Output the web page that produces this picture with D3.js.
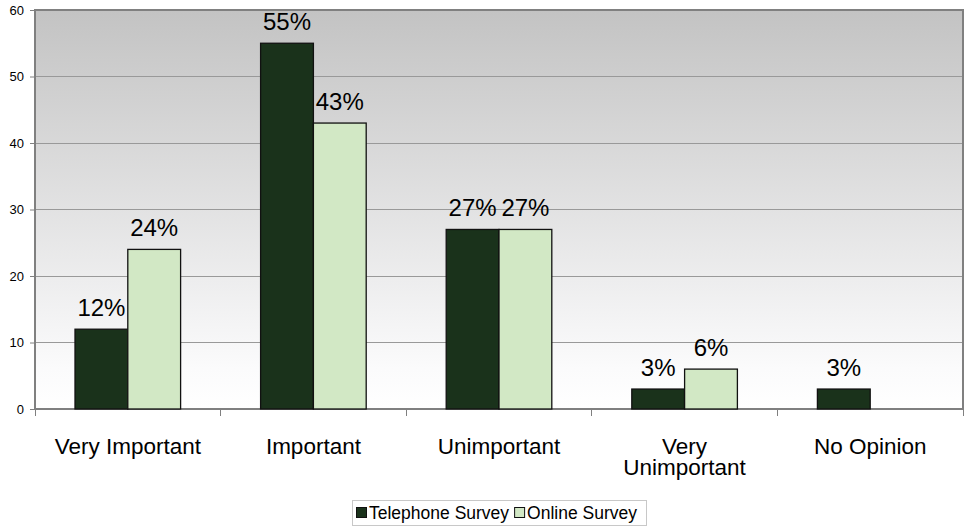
<!DOCTYPE html>
<html><head><meta charset="utf-8">
<script src="https://cdn.jsdelivr.net/npm/d3@7"></script>
<style>body{margin:0;background:#fff}svg{display:block;font-family:"Liberation Sans",Arial,sans-serif}</style>
</head><body><svg id="c" width="964" height="527"></svg>
<script>
const categories = ["Very Important", "Important", "Unimportant", "Very Unimportant", "No Opinion"];
const categoryLines = [["Very Important"], ["Important"], ["Unimportant"], ["Very", "Unimportant"], ["No Opinion"]];
const telephone = [12, 55, 27, 3, 3];
const online = [24, 43, 27, 6, null];
const seriesNames = ["Telephone Survey", "Online Survey"];
const yTicks = [0, 10, 20, 30, 40, 50, 60];

const svg = d3.select("#c");
const FF = "Liberation Sans, Arial, sans-serif";
const L = 35, R = 963, T = 10, B = 409;
const x = d3.scaleBand().domain(categories).range([L, R]);
const y = d3.scaleLinear().domain([0, 60]).range([B, T]);
const colors = ["#1a321b", "#d2e8c5"];

const defs = svg.append("defs");
const g = defs.append("linearGradient").attr("id", "bg").attr("x1", 0).attr("y1", 0).attr("x2", 0).attr("y2", 1);
g.append("stop").attr("offset", 0).attr("stop-color", "#c3c3c3");
g.append("stop").attr("offset", 0.9).attr("stop-color", "#fbfbfc");
g.append("stop").attr("offset", 1).attr("stop-color", "#ffffff");

svg.append("rect").attr("x", L).attr("y", T).attr("width", R - L).attr("height", B - T).attr("fill", "url(#bg)");

svg.append("g").selectAll("line").data(yTicks.slice(1)).join("line")
  .attr("x1", L).attr("x2", R).attr("y1", d => y(d)).attr("y2", d => y(d))
  .attr("stroke", "#999").attr("stroke-width", 1).attr("shape-rendering", "crispEdges");

// frame
svg.append("rect").attr("x", L).attr("y", T).attr("width", R - L).attr("height", B - T)
  .attr("fill", "none").attr("stroke", "#808080").attr("stroke-width", 2);

const yAxis = svg.append("g").attr("transform", `translate(${L},0)`)
  .call(d3.axisLeft(y).tickValues(yTicks).tickSize(5).tickPadding(6));
yAxis.attr("font-family", FF);
yAxis.select(".domain").remove();
yAxis.selectAll("line").attr("stroke", "#808080");
yAxis.selectAll("text").attr("font-size", 13).attr("fill", "#000");

// category ticks
const bounds = categories.map(c => x(c)).concat([R]);
svg.append("g").selectAll("line").data(bounds).join("line")
  .attr("x1", d => d).attr("x2", d => d).attr("y1", B).attr("y2", B + 7)
  .attr("stroke", "#808080").attr("shape-rendering", "crispEdges");

const pad = 40;
const bw = (x.bandwidth() - 2 * pad) / 2;
const series = [telephone, online];
series.forEach((s, si) => {
  const data = categories.map((c, i) => ({c, v: s[i]})).filter(d => d.v != null);
  const gg = svg.append("g");
  gg.selectAll("rect").data(data).join("rect")
    .attr("x", d => x(d.c) + pad + si * bw).attr("y", d => y(d.v))
    .attr("width", bw).attr("height", d => y(0) - y(d.v))
    .attr("fill", colors[si]).attr("stroke", "#111").attr("stroke-width", 1.3);
  gg.selectAll("text").data(data).join("text")
    .attr("x", d => x(d.c) + pad + si * bw + bw / 2).attr("y", d => y(d.v) - 13)
    .attr("text-anchor", "middle").attr("font-size", 24).text(d => d.v + "%");
});

// category labels
svg.append("g").selectAll("text").data(categories).join("text")
  .attr("x", d => x(d) + x.bandwidth() / 2).attr("y", 454)
  .attr("text-anchor", "middle").attr("font-size", 22.5)
  .each(function(d, i) {
    const t = d3.select(this);
    categoryLines[i].forEach((ln, j) => t.append("tspan").attr("x", x(d) + x.bandwidth() / 2).attr("dy", j ? 21 : 0).text(ln));
  });

// legend
const lg = svg.append("g");
lg.append("rect").attr("x", 352.5).attr("y", 500.5).attr("width", 294).attr("height", 25).attr("fill", "#fff").attr("stroke", "#c8c8c8");
let lx = 356;
seriesNames.forEach((n, i) => {
  lg.append("rect").attr("x", lx + 0.5).attr("y", 507.5).attr("width", 10).attr("height", 10).attr("fill", colors[i]).attr("stroke", "#111");
  const t = lg.append("text").attr("x", lx + 13).attr("y", 519).attr("font-size", 17.5).text(n);
  lx += 13 + t.node().getComputedTextLength() + 5;
});
</script></body></html>
